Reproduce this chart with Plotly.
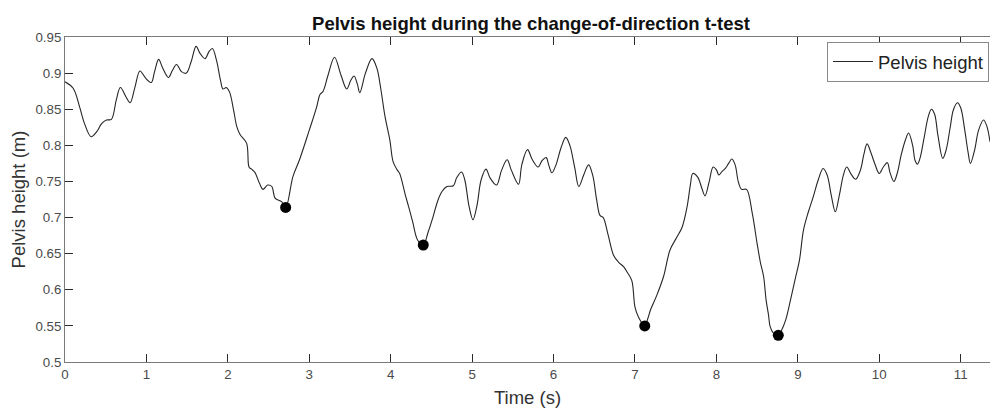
import plotly.graph_objects as go

# Pelvis height trace: time (s) and height (m)
time_s = [
    0.00, 0.10, 0.18, 0.24, 0.32, 0.39, 0.45, 0.51, 0.57, 0.63,
    0.68, 0.75, 0.80, 0.86, 0.92, 0.99, 1.06, 1.10, 1.15, 1.20,
    1.27, 1.32, 1.37, 1.43, 1.49, 1.55, 1.61, 1.66, 1.72, 1.77,
    1.81, 1.86, 1.91, 1.94, 1.98, 2.02, 2.07, 2.11, 2.15, 2.23,
    2.26, 2.29, 2.33, 2.39, 2.43, 2.49, 2.54, 2.58, 2.66, 2.71,
    2.80, 2.88, 3.00, 3.09, 3.13, 3.17, 3.23, 3.31, 3.39, 3.46,
    3.51, 3.55, 3.59, 3.62, 3.69, 3.77, 3.83, 3.88, 3.93, 3.99,
    4.03, 4.08, 4.11, 4.18, 4.22, 4.27, 4.33, 4.40, 4.46, 4.52,
    4.58, 4.63, 4.69, 4.77, 4.81, 4.87, 4.91, 4.96, 5.01, 5.06,
    5.11, 5.17, 5.22, 5.30, 5.36, 5.43, 5.48, 5.57, 5.61, 5.68,
    5.74, 5.81, 5.86, 5.91, 5.94, 5.98, 6.03, 6.09, 6.15, 6.20,
    6.26, 6.31, 6.37, 6.43, 6.48, 6.53, 6.57, 6.61, 6.67, 6.74,
    6.80, 6.86, 6.90, 6.96, 7.00, 7.04, 7.12, 7.16, 7.19, 7.27,
    7.35, 7.43, 7.51, 7.58, 7.64, 7.68, 7.71, 7.77, 7.82, 7.86,
    7.91, 7.96, 8.00, 8.03, 8.07, 8.11, 8.15, 8.19, 8.23, 8.27,
    8.31, 8.37, 8.44, 8.50, 8.54, 8.58, 8.61, 8.64, 8.66, 8.70,
    8.76, 8.80, 8.85, 8.91, 8.97, 9.02, 9.07, 9.13, 9.19, 9.25,
    9.31, 9.36, 9.41, 9.46, 9.51, 9.56, 9.60, 9.66, 9.71, 9.77,
    9.81, 9.85, 9.90, 9.95, 10.00, 10.05, 10.10, 10.13, 10.18, 10.22,
    10.27, 10.32, 10.36, 10.41, 10.44, 10.47, 10.50, 10.55, 10.60, 10.64,
    10.68, 10.72, 10.78, 10.82, 10.87, 10.91, 10.96, 11.00, 11.05, 11.09,
    11.12, 11.17, 11.22, 11.28, 11.32, 11.36,
]
pelvis_height_m = [
    0.888, 0.879, 0.853, 0.830, 0.812, 0.819, 0.830, 0.835, 0.836, 0.863,
    0.880, 0.867, 0.859, 0.881, 0.903, 0.893, 0.887, 0.902, 0.919, 0.907,
    0.894, 0.904, 0.912, 0.902, 0.900, 0.916, 0.937, 0.927, 0.920, 0.930,
    0.934, 0.918, 0.890, 0.878, 0.880, 0.874, 0.849, 0.826, 0.815, 0.803,
    0.770, 0.767, 0.763, 0.747, 0.739, 0.745, 0.743, 0.727, 0.722, 0.714,
    0.757, 0.780, 0.821, 0.853, 0.870, 0.875, 0.897, 0.922, 0.897, 0.878,
    0.890, 0.896, 0.885, 0.873, 0.900, 0.920, 0.907, 0.877, 0.840, 0.807,
    0.777, 0.766, 0.761, 0.731, 0.715, 0.694, 0.669, 0.662, 0.680, 0.701,
    0.724, 0.736, 0.743, 0.744, 0.755, 0.763, 0.752, 0.717, 0.697, 0.717,
    0.752, 0.767, 0.755, 0.745, 0.765, 0.780, 0.766, 0.746, 0.773, 0.794,
    0.780, 0.770, 0.779, 0.783, 0.773, 0.762, 0.773, 0.796, 0.811, 0.800,
    0.769, 0.743, 0.759, 0.773, 0.759, 0.724, 0.703, 0.700, 0.676, 0.647,
    0.638, 0.632, 0.625, 0.613, 0.576, 0.563, 0.550, 0.561, 0.572, 0.593,
    0.618, 0.655, 0.672, 0.687, 0.715, 0.745, 0.761, 0.756, 0.741, 0.730,
    0.749, 0.770, 0.766, 0.759, 0.764, 0.768, 0.775, 0.781, 0.773, 0.749,
    0.739, 0.739, 0.706, 0.664, 0.638, 0.618, 0.586, 0.565, 0.549, 0.540,
    0.537, 0.544, 0.558, 0.586, 0.616, 0.641, 0.683, 0.708, 0.729, 0.752,
    0.768, 0.759, 0.731, 0.708, 0.731, 0.759, 0.770, 0.759, 0.753, 0.766,
    0.787, 0.802, 0.789, 0.773, 0.761, 0.770, 0.776, 0.763, 0.750, 0.761,
    0.787, 0.807, 0.817, 0.800, 0.779, 0.774, 0.782, 0.810, 0.839, 0.850,
    0.843, 0.814, 0.782, 0.793, 0.824, 0.849, 0.859, 0.852, 0.821, 0.791,
    0.775, 0.793, 0.821, 0.835, 0.827, 0.805,
]

# Lowest points reached at each change of direction
min_time_s = [2.71, 4.40, 7.12, 8.76]
min_height_m = [0.714, 0.662, 0.550, 0.537]

x_ticks = list(range(0, 12))
y_ticks = [0.5, 0.55, 0.6, 0.65, 0.7, 0.75, 0.8, 0.85, 0.9, 0.95]
y_tick_labels = ["0.5", "0.55", "0.6", "0.65", "0.7", "0.75", "0.8", "0.85", "0.9", "0.95"]

FONT = "Liberation Sans, Arial, sans-serif"
AXIS_GREY = "#7a7a7a"
TICK_GREY = "#2b2b2b"
TEXT_GREY = "#4a4a4a"

fig = go.Figure()
fig.add_trace(go.Scatter(
    x=time_s, y=pelvis_height_m, mode="lines", name="Pelvis height",
    line=dict(color="#262626", width=1.1, shape="spline", smoothing=1.0),
))
fig.add_trace(go.Scatter(
    x=min_time_s, y=min_height_m, mode="markers", showlegend=False,
    marker=dict(color="black", size=11, line=dict(width=0)),
))

fig.update_layout(
    width=990, height=408,
    margin=dict(l=65, r=0, t=37, b=46, autoexpand=False),
    paper_bgcolor="white", plot_bgcolor="white",
    font=dict(family=FONT, color=TEXT_GREY),
    title=dict(
        text="<b>Pelvis height during the change-of-direction t-test</b>",
        font=dict(family=FONT, size=18.5, color="#111111"),
        x=531 / 990, xanchor="center", xref="container",
        y=1 - 23.5 / 408, yanchor="middle", yref="container",
    ),
    legend=dict(
        x=(989 - 65) / 925, xanchor="right", xref="paper",
        y=(362 - 42) / 325, yanchor="top", yref="paper",
        bgcolor="white", bordercolor="#8a8a8a", borderwidth=1,
        font=dict(family=FONT, size=18.5, color="#222222"),
        tracegroupgap=0, itemwidth=40,
    ),
    showlegend=True,
)

fig.update_xaxes(
    range=[0, 11.36], tickvals=x_ticks,
    ticks="inside", ticklen=8, tickwidth=1, tickcolor=TICK_GREY,
    showline=True, linecolor=AXIS_GREY, linewidth=1, mirror="ticks",
    showgrid=False, zeroline=False,
    tickfont=dict(family=FONT, size=13.3, color=TEXT_GREY),
    title=dict(text="Time (s)", font=dict(family=FONT, size=18.5, color="#333333"), standoff=10),
)
fig.update_yaxes(
    range=[0.5, 0.95], tickvals=y_ticks, ticktext=y_tick_labels,
    ticks="inside", ticklen=8, tickwidth=1, tickcolor=TICK_GREY,
    showline=True, linecolor=AXIS_GREY, linewidth=1, mirror=True,
    showgrid=False, zeroline=False,
    tickfont=dict(family=FONT, size=13.3, color=TEXT_GREY),
    title=dict(text="Pelvis height (m)", font=dict(family=FONT, size=18.5, color="#333333"), standoff=4),
)

fig.write_html("out.html")
